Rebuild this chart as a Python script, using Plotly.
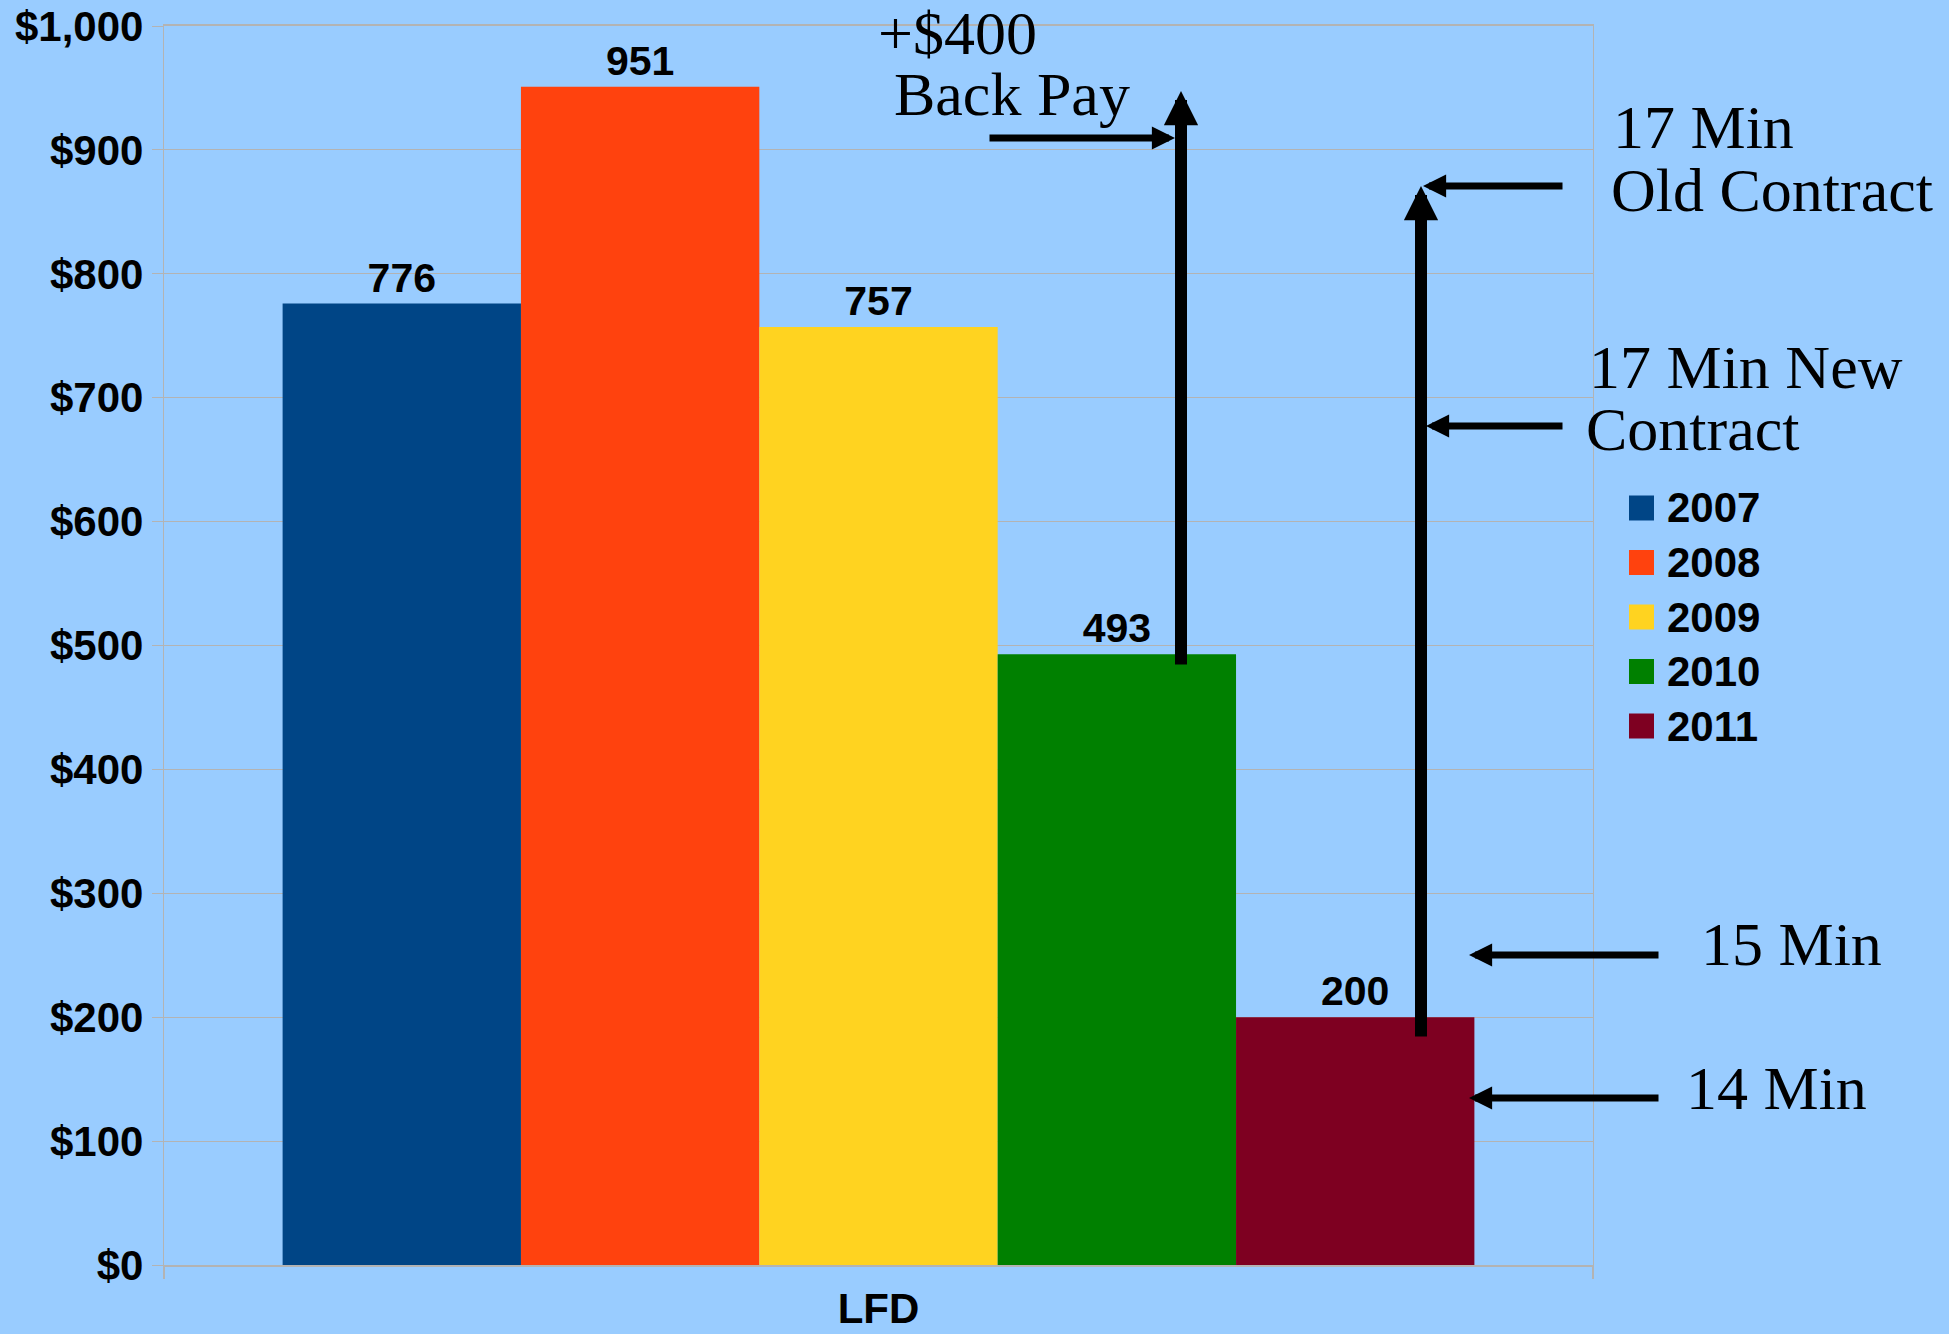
import plotly.graph_objects as go

# ---- data ----
category = ["LFD"]
years = ["2007", "2008", "2009", "2010", "2011"]
amounts = [776, 951, 757, 493, 200]
bar_colors = ["#004586", "#ff420e", "#ffd320", "#008000", "#7e0021"]
tick_values = [0, 100, 200, 300, 400, 500, 600, 700, 800, 900, 1000]
tick_labels = ["$0", "$100", "$200", "$300", "$400", "$500",
               "$600", "$700", "$800", "$900", "$1,000"]

# ---- canvas geometry (pixels) ----
W, H = 1949, 1334
L, R, T, B = 164, 1593, 26, 1265
PW, PH = R - L, B - T


def fx(px):
    """Horizontal page pixel -> paper fraction."""
    return (px - L) / PW


def fy(py):
    """Vertical page pixel -> paper fraction."""
    return (B - py) / PH


bg = "#99ccff"
grid = "#b3b3b3"
sans_bold = dict(family="Liberation Sans, Arial, sans-serif", size=42, color="black", weight="bold")
serif = dict(family="Liberation Serif, Times New Roman, serif", size=62, color="black")

fig = go.Figure()
for yr, val, col in zip(years, amounts, bar_colors):
    fig.add_trace(go.Bar(
        x=category, y=[val], name=yr,
        marker=dict(color=col, line=dict(width=0)),
        text=[f"{val}"], textposition="outside",
        textfont=dict(family="Liberation Sans, Arial, sans-serif", size=41, color="black", weight="bold"),
        cliponaxis=False, showlegend=False,
    ))

annotations = []
shapes = []

# legend: coloured squares with year labels
for i, (yr, col) in enumerate(zip(years, bar_colors)):
    cy = 508 + i * 54.5
    shapes.append(dict(type="rect", xref="paper", yref="paper",
                       x0=fx(1629), x1=fx(1654), y0=fy(cy + 12.5), y1=fy(cy - 12.5),
                       fillcolor=col, line=dict(width=0)))
    annotations.append(dict(text=yr, xref="paper", yref="paper", x=fx(1665), y=fy(cy),
                            xanchor="left", yanchor="middle", showarrow=False, font=sans_bold))

# callout texts
callouts = [
    ("+$400", 876, 54),
    ("Back Pay", 892, 115),
    ("17 Min", 1611, 148),
    ("Old Contract", 1609, 211),
    ("17 Min New", 1587, 388),
    ("Contract", 1584, 450),
    ("15 Min", 1699, 965),
    ("14 Min", 1684, 1109),
]
for txt, left, base in callouts:
    annotations.append(dict(text=txt, xref="paper", yref="paper", x=fx(left), y=fy(base - 21),
                            xanchor="left", yanchor="middle", showarrow=False, font=serif))

# arrows: (tip_x, tip_y, tail_x, tail_y, width, size)
arrows = [
    (1181, 91, 1181, 666, 12, 0.57),
    (1175, 138, 988, 138, 7, 0.66),
    (1421, 186, 1421, 1038, 12, 0.57),
    (1423, 186, 1564, 186, 7, 0.66),
    (1426, 426, 1564, 426, 7, 0.66),
    (1469, 955, 1660, 955, 7, 0.66),
    (1469, 1098, 1660, 1098, 7, 0.66),
]
for tx, ty, sx, sy, w, s in arrows:
    annotations.append(dict(text="", xref="paper", yref="paper", x=fx(tx), y=fy(ty),
                            ax=sx - tx, ay=sy - ty, showarrow=True, arrowhead=2,
                            arrowsize=s, arrowwidth=w, arrowcolor="black", standoff=0))

fig.update_layout(
    width=W, height=H,
    margin=dict(l=L, r=W - R, t=T, b=H - B, pad=0, autoexpand=False),
    paper_bgcolor=bg, plot_bgcolor=bg,
    barmode="group", bargap=0.166, bargroupgap=0,
    showlegend=False,
    annotations=annotations, shapes=shapes,
    xaxis=dict(
        type="category", tickfont=sans_bold, automargin=False,
        showline=True, linecolor=grid, linewidth=1.5, mirror=True,
        ticks="outside", tickson="boundaries", ticklen=12, tickcolor=grid, tickwidth=1.5,
        showgrid=False, zeroline=False, ticklabelstandoff=6,
    ),
    yaxis=dict(
        range=[0, 1000], tickmode="array", tickvals=tick_values, ticktext=tick_labels,
        tickfont=sans_bold, ticks="outside", ticklen=11, tickcolor=grid, tickwidth=1.3,
        showgrid=True, gridcolor=grid, gridwidth=1.3, automargin=False,
        showline=True, linecolor=grid, linewidth=1.3, mirror=True,
        zeroline=False, ticklabelstandoff=0,
    ),
)

fig.write_html("out.html")
